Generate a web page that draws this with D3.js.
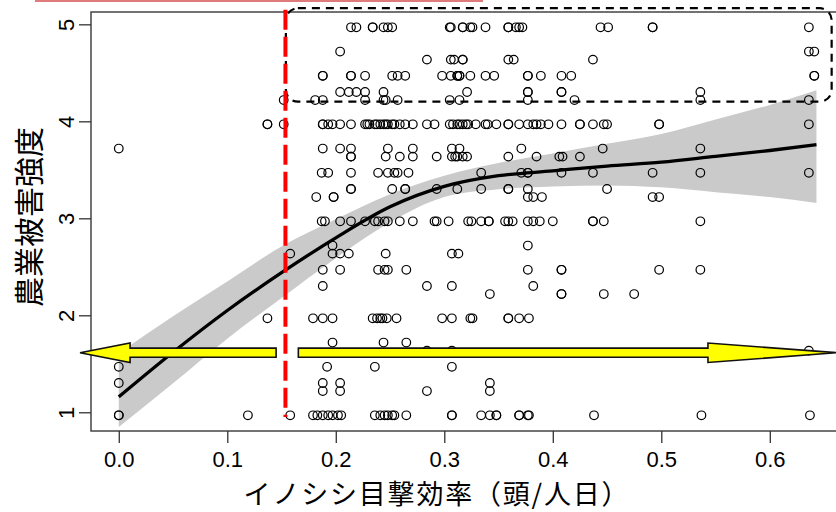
<!DOCTYPE html>
<html>
<head>
<meta charset="utf-8">
<title>農業被害強度</title>
<style>
	body { margin: 0; background: #fff; }
	svg { display: block; }
	.tick text { font-family: "Liberation Sans", Arial, sans-serif; font-size: 22px; fill: #000; }
	.tick line { stroke: #333; stroke-width: 1.3; }
	.title { font-family: "Noto Sans CJK JP", sans-serif; fill: #000; }
</style>
<script src="https://cdn.jsdelivr.net/npm/d3@7"></script>
</head>
<body>
<svg id="chart" width="836" height="512"></svg>
<script>
// axes
const xTicks = [0, 0.1, 0.2, 0.3, 0.4, 0.5, 0.6];
const yTicks = [1, 2, 3, 4, 5];

// observed points: one x list per damage level
const yLevels = [5, 4.75, 4.667, 4.5, 4.333, 4.25, 4, 3.75, 3.667, 3.5, 3.333, 3.25, 3,
	2.75, 2.667, 2.5, 2.333, 2.25, 2, 1.75, 1.667, 1.5, 1.333, 1.25, 1];
const xByLevel = [
	[0.214, 0.219, 0.234, 0.234, 0.244, 0.248, 0.252, 0.305, 0.306, 0.317, 0.317, 0.324, 0.326, 0.338, 0.359, 0.359, 0.366, 0.369, 0.372, 0.444, 0.451, 0.492, 0.492, 0.636],
	[0.204, 0.636, 0.641],
	[0.284, 0.306, 0.309, 0.317, 0.317, 0.359, 0.364, 0.437],
	[0.188, 0.188, 0.214, 0.214, 0.227, 0.252, 0.257, 0.264, 0.298, 0.306, 0.312, 0.312, 0.314, 0.314, 0.324, 0.338, 0.346, 0.377, 0.377, 0.389, 0.408, 0.417, 0.641, 0.641],
	[0.204, 0.212, 0.219, 0.227, 0.244, 0.321, 0.377, 0.377, 0.408, 0.408, 0.536],
	[0.152, 0.181, 0.188, 0.227, 0.244, 0.246, 0.257, 0.305, 0.314, 0.377, 0.420, 0.536, 0.636],
	[0.137, 0.137, 0.152, 0.188, 0.188, 0.193, 0.197, 0.204, 0.214, 0.227, 0.229, 0.231, 0.236, 0.238, 0.241, 0.244, 0.246, 0.248, 0.252, 0.254, 0.259, 0.264, 0.271, 0.284, 0.291, 0.305, 0.308, 0.312, 0.314, 0.317, 0.320, 0.322, 0.329, 0.338, 0.340, 0.348, 0.359, 0.359, 0.369, 0.377, 0.382, 0.385, 0.389, 0.396, 0.408, 0.425, 0.425, 0.437, 0.447, 0.450, 0.498, 0.498, 0.636],
	[0, 0.188, 0.204, 0.214, 0.248, 0.271, 0.307, 0.314, 0.371, 0.446, 0.536],
	[0.214, 0.214, 0.246, 0.259, 0.271, 0.293, 0.307, 0.310, 0.312, 0.317, 0.321, 0.359, 0.385, 0.406, 0.409, 0.425],
	[0.187, 0.193, 0.214, 0.239, 0.248, 0.254, 0.257, 0.267, 0.334, 0.371, 0.377, 0.377, 0.408, 0.437, 0.492, 0.536, 0.636],
	[0.214, 0.214, 0.252, 0.264, 0.264, 0.293, 0.312, 0.334, 0.359, 0.359, 0.377, 0.450],
	[0.182, 0.198, 0.198, 0.377, 0.382, 0.390, 0.492, 0.498],
	[0.187, 0.190, 0.204, 0.214, 0.227, 0.236, 0.239, 0.245, 0.248, 0.259, 0.271, 0.291, 0.293, 0.304, 0.322, 0.325, 0.334, 0.341, 0.341, 0.356, 0.359, 0.363, 0.377, 0.382, 0.388, 0.400, 0.437, 0.437, 0.447, 0.536],
	[0.197, 0.377],
	[0.158, 0.197, 0.204, 0.212, 0.246, 0.307, 0.313],
	[0.188, 0.204, 0.239, 0.245, 0.248, 0.265, 0.377, 0.408, 0.408, 0.498, 0.536],
	[0.188, 0.284, 0.307, 0.382],
	[0.342, 0.408, 0.408, 0.447, 0.475],
	[0.137, 0.179, 0.188, 0.197, 0.234, 0.238, 0.241, 0.243, 0.247, 0.256, 0.298, 0.307, 0.324, 0.326, 0.359, 0.359, 0.369, 0.378],
	[0.197, 0.244, 0.265],
	[0.284, 0.307, 0.636],
	[0, 0.192, 0.236, 0.307],
	[0, 0.188, 0.204, 0.342],
	[0.188, 0.204, 0.284, 0.342],
	[0, 0, 0.119, 0.158, 0.179, 0.183, 0.188, 0.193, 0.197, 0.202, 0.205, 0.236, 0.241, 0.245, 0.248, 0.252, 0.254, 0.265, 0.307, 0.307, 0.334, 0.342, 0.348, 0.348, 0.369, 0.369, 0.377, 0.378, 0.438, 0.537, 0.637]
];

// smoothed fit and its confidence band
const fitX  = [0, 0.05, 0.10, 0.15, 0.20, 0.25, 0.30, 0.35, 0.40, 0.45, 0.50, 0.55, 0.60, 0.643];
const fitY  = [1.19, 1.65, 2.08, 2.47, 2.83, 3.15, 3.36, 3.47, 3.52, 3.57, 3.61, 3.67, 3.73, 3.79];
const fitHi = [1.64, 2.02, 2.38, 2.74, 3.02, 3.28, 3.47, 3.60, 3.70, 3.80, 3.90, 4.05, 4.20, 4.35];
const fitLo = [0.88, 1.33, 1.79, 2.21, 2.62, 2.99, 3.25, 3.33, 3.36, 3.37, 3.35, 3.30, 3.25, 3.19];

// annotations (data units)
const threshold = 0.1536;
const boxX = [0.154, 0.657];
const boxY = [4.233, 5.197];
const arrowY = 1.645;
const leftArrow = [0.145, 0.0104, -0.0357];   // tail, head base, tip
const rightArrow = [0.1655, 0.543, 0.662];

const svg = d3.select('#chart');

const x = d3.scaleLinear().domain([-0.0256, 0.667]).range([91, 842.5]);
const y = d3.scaleLinear().domain([0.838, 5.158]).range([431, 12]);

// band + fit
const fit = fitX.map((d, i) => ({x: d, y: fitY[i], lo: fitLo[i], hi: fitHi[i]}));
svg.append('path')
	.attr('d', d3.area().x(d => x(d.x)).y0(d => y(d.lo)).y1(d => y(d.hi)).curve(d3.curveMonotoneX)(fit))
	.attr('fill', '#cacaca');
svg.append('path')
	.attr('d', d3.line().x(d => x(d.x)).y(d => y(d.y)).curve(d3.curveMonotoneX)(fit))
	.attr('fill', 'none').attr('stroke', '#000').attr('stroke-width', 3.3);

// frame
svg.append('rect')
	.attr('x', x.range()[0]).attr('y', y.range()[1])
	.attr('width', x.range()[1] - x.range()[0]).attr('height', y.range()[0] - y.range()[1])
	.attr('fill', 'none').attr('stroke', '#444').attr('stroke-width', 1.5);

// axes
const gx = svg.append('g').attr('transform', `translate(0,${y.range()[0]})`)
	.call(d3.axisBottom(x).tickValues(xTicks).tickFormat(d3.format('.1f')).tickSize(12).tickSizeOuter(0).tickPadding(8));
gx.select('.domain').remove();

const gy = svg.append('g').attr('transform', `translate(${x.range()[0]},-3)`)
	.call(d3.axisLeft(y).tickValues(yTicks).tickFormat(d3.format('d')).tickSize(12).tickSizeOuter(0));
gy.select('.domain').remove();
gy.selectAll('.tick text')
	.attr('x', 0).attr('y', 0).attr('dy', null)
	.attr('text-anchor', 'middle')
	.attr('transform', 'translate(-17,0) rotate(-90)');

// points
const pts = [];
yLevels.forEach((lv, i) => xByLevel[i].forEach(v => pts.push({x: v, y: lv})));
svg.append('g').selectAll('circle').data(pts).join('circle')
	.attr('cx', d => x(d.x)).attr('cy', d => y(d.y)).attr('r', 4.3)
	.attr('fill', 'none').attr('stroke', '#000').attr('stroke-width', 1.2);

// dashed rounded box
svg.append('rect')
	.attr('x', x(boxX[0])).attr('y', y(boxY[1]))
	.attr('width', x(boxX[1]) - x(boxX[0])).attr('height', y(boxY[0]) - y(boxY[1]))
	.attr('rx', 12).attr('ry', 12)
	.attr('fill', 'none').attr('stroke', '#000').attr('stroke-width', 2.2)
	.attr('stroke-dasharray', '8,6');

// threshold line
svg.append('line')
	.attr('x1', x(threshold)).attr('x2', x(threshold))
	.attr('y1', y(5.18)).attr('y2', y(0.983))
	.attr('stroke', '#ff0000').attr('stroke-width', 4)
	.attr('stroke-dasharray', '20,7');

// arrows
function arrow(a) {
	const s = 0.047, h = 0.1;
	return [[a[0], arrowY + s], [a[1], arrowY + s], [a[1], arrowY + h], [a[2], arrowY],
		[a[1], arrowY - h], [a[1], arrowY - s], [a[0], arrowY - s]];
}
const arrowPath = d3.line().x(d => x(d[0])).y(d => y(d[1]));
[leftArrow, rightArrow].forEach(a => {
	svg.append('path')
		.attr('d', arrowPath(arrow(a)) + 'Z')
		.attr('fill', '#ffff00').attr('stroke', '#111').attr('stroke-width', 1.6)
		.attr('stroke-linejoin', 'miter');
});

// cropped highlight line at the top
svg.append('line')
	.attr('x1', 35).attr('x2', 483).attr('y1', 1).attr('y2', 1)
	.attr('stroke', '#e07b7b').attr('stroke-width', 2);

// titles
svg.append('text').attr('class', 'title')
	.attr('x', 437).attr('y', 503.5)
	.attr('text-anchor', 'middle').attr('font-size', 27).attr('letter-spacing', 1.8)
	.text('イノシシ目撃効率（頭/人日）');
svg.append('text').attr('class', 'title')
	.attr('transform', 'translate(27,217) rotate(-90)')
	.attr('text-anchor', 'middle').attr('dominant-baseline', 'central').attr('font-size', 30)
	.text('農業被害強度');
</script>
</body>
</html>
